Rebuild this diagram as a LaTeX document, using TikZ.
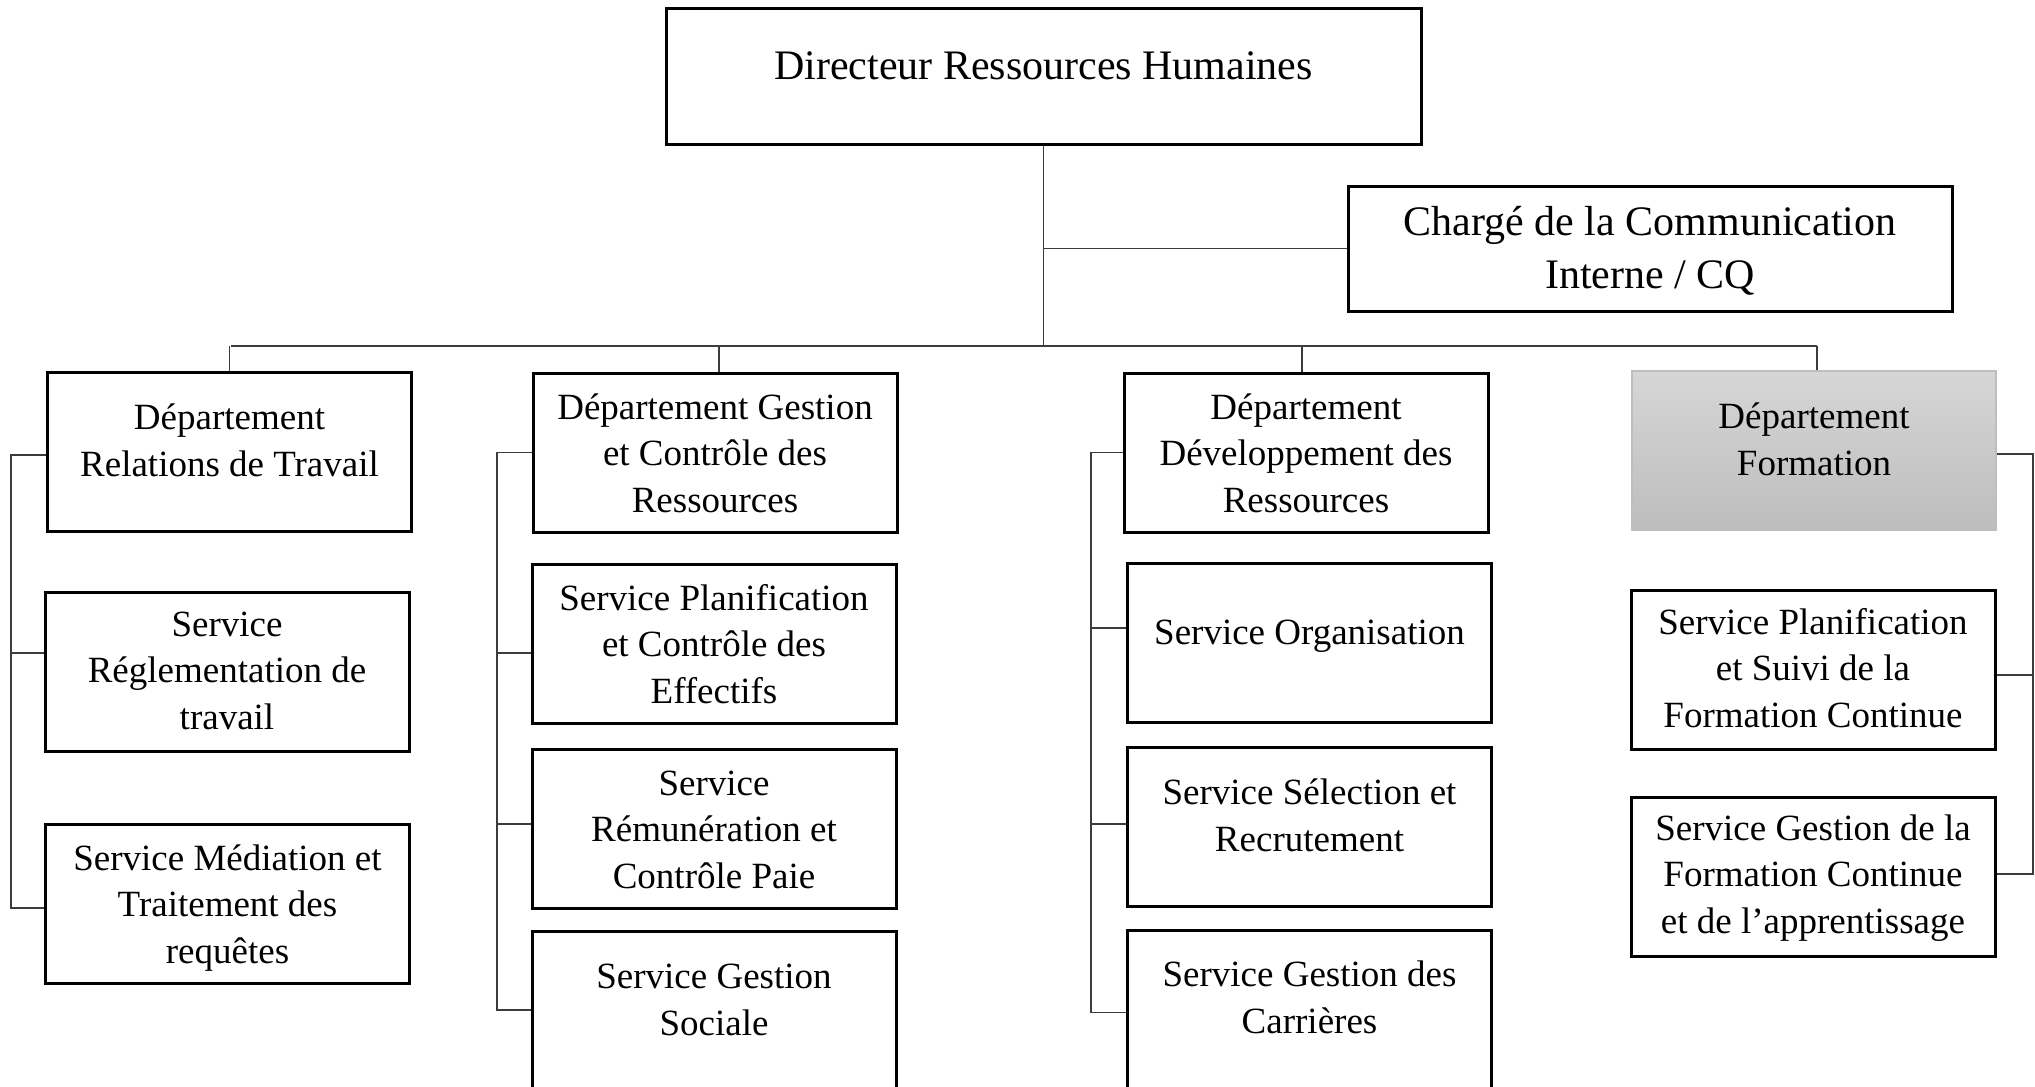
\documentclass[tikz,border=0pt]{standalone}
\usepackage{fontspec}
\setmainfont{Liberation Serif}
\definecolor{lnk}{RGB}{60,60,60}
\definecolor{gtop}{RGB}{214,214,214}
\definecolor{gbot}{RGB}{189,189,189}
\definecolor{gedge}{RGB}{190,190,190}
\begin{document}
\begin{tikzpicture}[x=1pt,y=-1pt,
  box/.style={draw=black, line width=3pt, inner sep=0pt, minimum width=364pt, minimum height=159pt},
  graybox/.style={box, draw=gedge, line width=1.4pt, top color=gtop, bottom color=gbot},
  txt/.style={align=center, anchor=base, inner sep=0pt, font=\fontsize{37}{46.3}\selectfont},
  bigtxt/.style={align=center, anchor=base, inner sep=0pt, font=\fontsize{42}{53}\selectfont},
  conn/.style={draw=lnk, line width=1.3pt}]
\useasboundingbox (0,0) rectangle (2035,1087);
\clip (0,0) rectangle (2035,1087);

% top level (text nodes anchored at the baseline of their last line)
\node[box, minimum width=755pt, minimum height=136pt] (dir) at (1043.5,76) {};
\node[bigtxt] (dirt) at (1043.5,79) {Directeur Ressources Humaines};
\node[box, minimum width=604pt, minimum height=125pt] (chg) at (1650,248.5) {};
\node[bigtxt] (chgt) at (1650,288) {Chargé de la Communication\\Interne / CQ};

% departments
\node[box] (d1) at (229.5,451.5) {};
\node[txt] (d1t) at (229.5,476) {Département\\Relations de Travail};
\node[box] (d2) at (715,452.5) {};
\node[txt] (d2t) at (715,512) {Département Gestion\\et Contrôle des\\Ressources};
\node[box] (d3) at (1306,452.5) {};
\node[txt] (d3t) at (1306,512) {Département\\Développement des\\Ressources};
\node[graybox] (d4) at (1814,450.5) {};
\node[txt] (d4t) at (1814,475) {Département\\Formation};

% column 1 services
\node[box] (s1a) at (227,671.5) {};
\node[txt] (s1at) at (227,729) {Service\\Réglementation de\\travail};
\node[box] (s1b) at (227.5,903.5) {};
\node[txt] (s1bt) at (227.5,963) {Service Médiation et\\Traitement des\\requêtes};

% column 2 services
\node[box] (s2a) at (714,644) {};
\node[txt] (s2at) at (714,703) {Service Planification\\et Contrôle des\\Effectifs};
\node[box] (s2b) at (714,828.5) {};
\node[txt] (s2bt) at (714,888) {Service\\Rémunération et\\Contrôle Paie};
\node[box, minimum height=164pt] (s2c) at (714,1013) {};
\node[txt] (s2ct) at (714,1035) {Service Gestion\\Sociale};

% column 3 services
\node[box] (s3a) at (1309.5,642.5) {};
\node[txt] (s3at) at (1309.5,644) {Service Organisation};
\node[box] (s3b) at (1309.5,827) {};
\node[txt] (s3bt) at (1309.5,851) {Service Sélection et\\Recrutement};
\node[box, minimum height=165pt] (s3c) at (1309.5,1012.5) {};
\node[txt] (s3ct) at (1309.5,1033) {Service Gestion des\\Carrières};

% column 4 services
\node[box] (s4a) at (1813,669.5) {};
\node[txt] (s4at) at (1813,727) {Service Planification\\et Suivi de la\\Formation Continue};
\node[box] (s4b) at (1813,876.5) {};
\node[txt] (s4bt) at (1813,933) {Service Gestion de la\\Formation Continue\\et de l’apprentissage};

% hierarchy connectors
\coordinate (busL) at (231,346);
\coordinate (busR) at (1817,346);
\coordinate (b1) at (11,0);
\coordinate (b2) at (497,0);
\coordinate (b3) at (1091,0);
\coordinate (b4) at (2033,0);

\draw[conn] (dir.south) -- (dir.south |- busL);
\draw[conn] (chg.west) -- (chg.west -| dir.south);
\draw[conn] (busL) -- (busR);
\draw[conn] (d1.north) -- (d1.north |- busL);
\draw[conn] ([xshift=4pt]d2.north) -- ([xshift=4pt]d2.north |- busL);
\draw[conn] ([xshift=-4pt]d3.north) -- ([xshift=-4pt]d3.north |- busL);
\draw[conn] ([xshift=3pt]d4.north) -- ([xshift=3pt]d4.north |- busL);

% column 1 bracket
\draw[conn] ([yshift=-3.5pt]d1.west) -- ([yshift=-3.5pt]d1.west -| b1) -- ([yshift=-4.5pt]s1b.west -| b1) -- ([yshift=-4.5pt]s1b.west);
\draw[conn] ([yshift=18.5pt]s1a.west) -- ([yshift=18.5pt]s1a.west -| b1);

% column 2 bracket
\draw[conn] (d2.west) -- (d2.west -| b2) -- ([yshift=3pt]s2c.west -| b2) -- ([yshift=3pt]s2c.west);
\draw[conn] ([yshift=-9pt]s2a.west) -- ([yshift=-9pt]s2a.west -| b2);
\draw[conn] ([yshift=4.5pt]s2b.west) -- ([yshift=4.5pt]s2b.west -| b2);

% column 3 bracket
\draw[conn] (d3.west) -- (d3.west -| b3) -- (s3c.west -| b3) -- (s3c.west);
\draw[conn] ([yshift=14.5pt]s3a.west) -- ([yshift=14.5pt]s3a.west -| b3);
\draw[conn] ([yshift=3pt]s3b.west) -- ([yshift=3pt]s3b.west -| b3);

% column 4 bracket
\draw[conn] ([yshift=-3.5pt]d4.east) -- ([yshift=-3.5pt]d4.east -| b4) -- ([yshift=2.5pt]s4b.east -| b4) -- ([yshift=2.5pt]s4b.east);
\draw[conn] ([yshift=-5.5pt]s4a.east) -- ([yshift=-5.5pt]s4a.east -| b4);
\end{tikzpicture}
\end{document}
